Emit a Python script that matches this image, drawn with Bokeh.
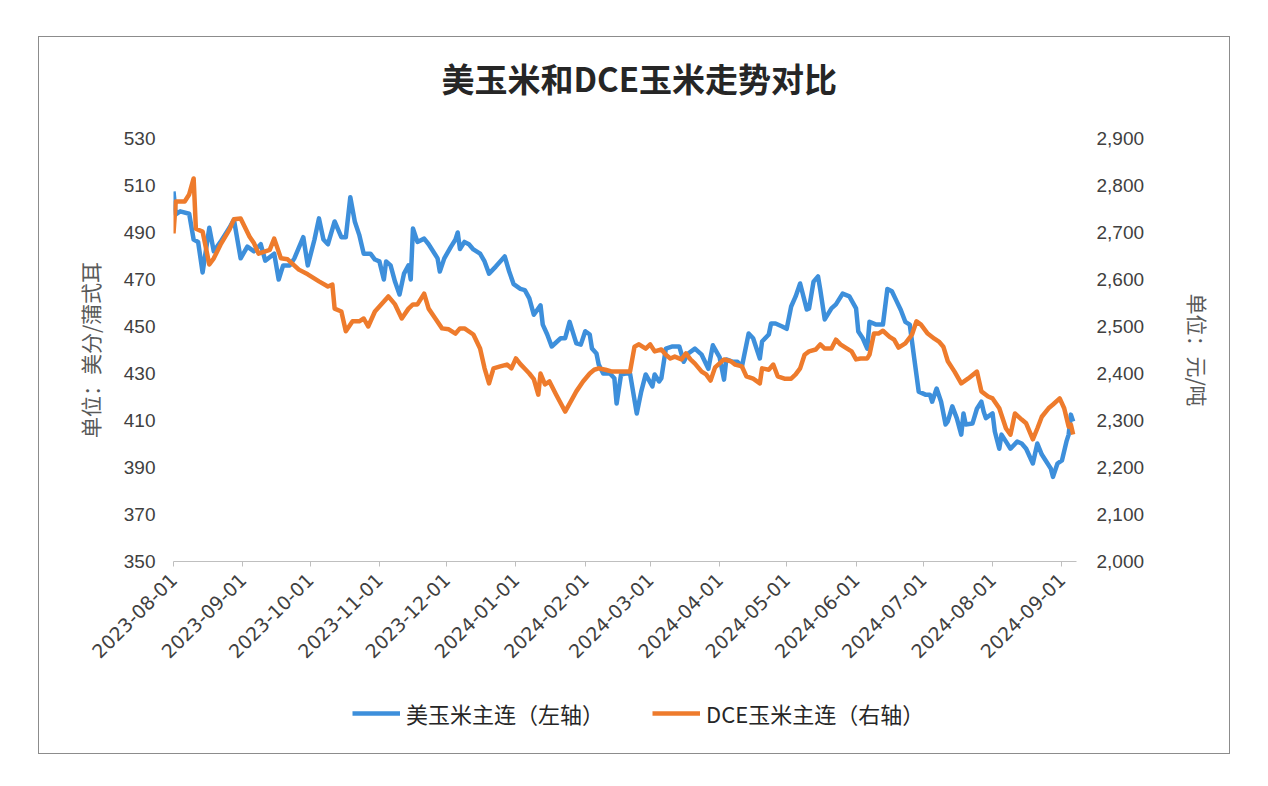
import math
import pandas as pd
from bokeh.plotting import figure
from bokeh.layouts import column
from bokeh.models import (Range1d, LinearAxis, FixedTicker, NumeralTickFormatter, Title,
                          DatetimeTickFormatter, Legend, LegendItem, ColumnDataSource)
from bokeh.embed import file_html
from bokeh.resources import INLINE

TITLE = "美玉米和DCE玉米走势对比"
LEFT_LABEL = "单位：美分/蒲式耳"
RIGHT_LABEL = "单位：元/吨"
US_NAME = "美玉米主连（左轴）"
DCE_NAME = "DCE玉米主连（右轴）"

left_ticks = [350, 370, 390, 410, 430, 450, 470, 490, 510, 530]
right_ticks = [2000, 2100, 2200, 2300, 2400, 2500, 2600, 2700, 2800, 2900]
month_ticks = ["2023-08-01", "2023-09-01", "2023-10-01", "2023-11-01", "2023-12-01",
               "2024-01-01", "2024-02-01", "2024-03-01", "2024-04-01", "2024-05-01",
               "2024-06-01", "2024-07-01", "2024-08-01", "2024-09-01"]

us_dates = [
    "2023-08-01", "2023-08-02", "2023-08-04", "2023-08-08", "2023-08-10", "2023-08-12",
    "2023-08-14", "2023-08-17", "2023-08-19", "2023-08-22", "2023-08-26", "2023-08-28",
    "2023-08-31", "2023-09-03", "2023-09-06", "2023-09-09", "2023-09-11", "2023-09-15",
    "2023-09-17", "2023-09-19", "2023-09-22", "2023-09-24", "2023-09-28", "2023-09-30",
    "2023-10-03", "2023-10-05", "2023-10-07", "2023-10-09", "2023-10-12", "2023-10-15",
    "2023-10-17", "2023-10-19", "2023-10-21", "2023-10-23", "2023-10-25", "2023-10-28",
    "2023-10-30", "2023-11-01", "2023-11-03", "2023-11-04", "2023-11-06", "2023-11-08",
    "2023-11-10", "2023-11-12", "2023-11-14", "2023-11-15", "2023-11-16", "2023-11-18",
    "2023-11-21", "2023-11-23", "2023-11-27", "2023-11-28", "2023-11-30", "2023-12-03",
    "2023-12-05", "2023-12-06", "2023-12-07", "2023-12-09", "2023-12-11", "2023-12-13",
    "2023-12-16", "2023-12-18", "2023-12-20", "2023-12-23", "2023-12-27", "2023-12-29",
    "2023-12-31", "2024-01-03", "2024-01-05", "2024-01-07", "2024-01-09", "2024-01-12",
    "2024-01-13", "2024-01-15", "2024-01-17", "2024-01-21", "2024-01-23", "2024-01-25",
    "2024-01-28", "2024-01-30", "2024-02-01", "2024-02-03", "2024-02-04", "2024-02-06",
    "2024-02-07", "2024-02-09", "2024-02-12", "2024-02-14", "2024-02-15", "2024-02-17",
    "2024-02-19", "2024-02-21", "2024-02-24", "2024-02-26", "2024-02-28", "2024-03-02",
    "2024-03-03", "2024-03-05", "2024-03-06", "2024-03-08", "2024-03-11", "2024-03-14",
    "2024-03-16", "2024-03-18", "2024-03-21", "2024-03-24", "2024-03-27", "2024-03-29",
    "2024-04-01", "2024-04-03", "2024-04-04", "2024-04-07", "2024-04-09", "2024-04-11",
    "2024-04-14", "2024-04-16", "2024-04-19", "2024-04-20", "2024-04-23", "2024-04-24",
    "2024-04-26", "2024-04-29", "2024-05-01", "2024-05-03", "2024-05-05", "2024-05-07",
    "2024-05-10", "2024-05-11", "2024-05-13", "2024-05-15", "2024-05-16", "2024-05-18",
    "2024-05-21", "2024-05-23", "2024-05-26", "2024-05-29", "2024-06-01", "2024-06-02",
    "2024-06-04", "2024-06-06", "2024-06-07", "2024-06-10", "2024-06-13", "2024-06-15",
    "2024-06-17", "2024-06-19", "2024-06-21", "2024-06-23", "2024-06-25", "2024-06-27",
    "2024-06-29", "2024-07-02", "2024-07-04", "2024-07-05", "2024-07-07", "2024-07-09",
    "2024-07-11", "2024-07-12", "2024-07-14", "2024-07-16", "2024-07-18", "2024-07-19",
    "2024-07-20", "2024-07-23", "2024-07-25", "2024-07-27", "2024-07-28", "2024-07-29",
    "2024-08-01", "2024-08-02", "2024-08-04", "2024-08-05", "2024-08-07", "2024-08-09",
    "2024-08-12", "2024-08-14", "2024-08-16", "2024-08-19", "2024-08-21", "2024-08-23",
    "2024-08-25", "2024-08-27", "2024-08-28", "2024-08-30", "2024-09-01", "2024-09-03",
    "2024-09-04", "2024-09-05", "2024-09-06",
]
us_values = [
    507.5, 497.7, 499.0, 498.0, 487.0, 486.0,
    473.0, 492.0, 482.0, 486.0, 492.0, 495.5,
    479.0, 484.0, 482.0, 485.0, 478.0, 481.0,
    470.0, 476.0, 476.0, 479.0, 488.0, 476.0,
    487.0, 496.0, 487.0, 485.0, 494.7, 488.0,
    488.0, 505.0, 494.7, 489.0, 481.0, 481.0,
    478.5, 477.7, 470.0, 477.7, 476.0, 469.0,
    463.6, 472.5, 476.0, 470.0, 491.7, 486.0,
    487.4, 485.0, 479.0, 473.4, 479.0, 484.0,
    487.0, 490.0, 483.0, 486.0, 485.0, 482.8,
    481.0, 477.7, 472.5, 475.5, 479.8, 473.4,
    468.0, 466.0, 465.5, 462.0, 455.0, 459.0,
    450.8, 446.6, 441.5, 445.0, 445.0, 452.0,
    442.8, 442.3, 448.0, 446.6, 440.6, 438.5,
    433.8, 430.0, 430.0, 428.0, 417.2, 429.6,
    430.0, 430.0, 413.0, 422.3, 429.6, 424.5,
    429.6, 426.6, 428.0, 440.6, 441.5, 441.5,
    435.0, 438.5, 440.6, 438.0, 432.0, 442.0,
    437.0, 427.4, 436.0, 435.0, 435.0, 433.0,
    447.0, 445.0, 436.4, 443.6, 446.6, 451.3,
    451.3, 450.0, 449.0, 458.5, 462.8, 468.3,
    457.2, 457.7, 469.1, 471.3, 465.7, 453.0,
    457.7, 459.4, 464.0, 462.8, 457.7, 447.9,
    445.0, 440.6, 452.0, 450.8, 450.8, 466.0,
    465.0, 461.0, 457.0, 452.0, 450.8, 436.4,
    422.3, 421.0, 421.0, 418.0, 423.6, 418.0,
    408.3, 409.6, 416.0, 411.0, 404.0, 413.0,
    408.3, 408.7, 415.0, 418.0, 413.8, 411.0,
    413.0, 405.3, 398.0, 404.0, 401.0, 398.0,
    401.0, 400.2, 398.0, 391.7, 400.2, 395.5,
    392.6, 389.6, 386.0, 391.7, 393.0, 401.0,
    404.0, 412.5, 409.6,
]

dce_dates = [
    "2023-08-01", "2023-08-02", "2023-08-06", "2023-08-08", "2023-08-10", "2023-08-11",
    "2023-08-14", "2023-08-17", "2023-08-19", "2023-08-22", "2023-08-26", "2023-08-28",
    "2023-08-31", "2023-09-04", "2023-09-06", "2023-09-08", "2023-09-13", "2023-09-15",
    "2023-09-18", "2023-09-21", "2023-09-26", "2023-09-30", "2023-10-05", "2023-10-09",
    "2023-10-11", "2023-10-12", "2023-10-15", "2023-10-17", "2023-10-20", "2023-10-23",
    "2023-10-25", "2023-10-27", "2023-10-30", "2023-11-03", "2023-11-05", "2023-11-08",
    "2023-11-11", "2023-11-14", "2023-11-16", "2023-11-18", "2023-11-21", "2023-11-23",
    "2023-11-26", "2023-11-29", "2023-12-02", "2023-12-05", "2023-12-07", "2023-12-09",
    "2023-12-13", "2023-12-16", "2023-12-18", "2023-12-20", "2023-12-22", "2023-12-25",
    "2023-12-28", "2023-12-30", "2024-01-01", "2024-01-03", "2024-01-05", "2024-01-07",
    "2024-01-09", "2024-01-11", "2024-01-12", "2024-01-14", "2024-01-16", "2024-01-19",
    "2024-01-23", "2024-01-25", "2024-01-28", "2024-01-31", "2024-02-03", "2024-02-05",
    "2024-02-07", "2024-02-10", "2024-02-13", "2024-02-17", "2024-02-21", "2024-02-23",
    "2024-02-25", "2024-02-28", "2024-03-01", "2024-03-03", "2024-03-06", "2024-03-08",
    "2024-03-10", "2024-03-12", "2024-03-15", "2024-03-17", "2024-03-19", "2024-03-21",
    "2024-03-24", "2024-03-26", "2024-03-28", "2024-03-30", "2024-04-03", "2024-04-06",
    "2024-04-08", "2024-04-11", "2024-04-13", "2024-04-16", "2024-04-19", "2024-04-20",
    "2024-04-23", "2024-04-25", "2024-04-27", "2024-04-30", "2024-05-03", "2024-05-05",
    "2024-05-07", "2024-05-09", "2024-05-11", "2024-05-14", "2024-05-16", "2024-05-18",
    "2024-05-21", "2024-05-23", "2024-05-25", "2024-05-28", "2024-05-30", "2024-06-01",
    "2024-06-03", "2024-06-06", "2024-06-07", "2024-06-09", "2024-06-11", "2024-06-13",
    "2024-06-16", "2024-06-18", "2024-06-20", "2024-06-23", "2024-06-26", "2024-06-28",
    "2024-06-30", "2024-07-03", "2024-07-06", "2024-07-08", "2024-07-10", "2024-07-12",
    "2024-07-15", "2024-07-18", "2024-07-21", "2024-07-25", "2024-07-27", "2024-07-30",
    "2024-08-01", "2024-08-04", "2024-08-07", "2024-08-09", "2024-08-11", "2024-08-14",
    "2024-08-16", "2024-08-19", "2024-08-21", "2024-08-23", "2024-08-26", "2024-08-28",
    "2024-08-31", "2024-09-02", "2024-09-04", "2024-09-05", "2024-09-06",
]
dce_values = [
    2698, 2766, 2766, 2781, 2815, 2708,
    2702, 2632, 2645, 2674, 2706, 2728,
    2730, 2691, 2677, 2655, 2663, 2687,
    2645, 2643, 2621, 2611, 2596, 2585,
    2589, 2538, 2532, 2490, 2511, 2511,
    2517, 2500, 2532, 2553, 2564, 2547,
    2517, 2538, 2547, 2547, 2570, 2538,
    2517, 2496, 2494, 2485, 2496, 2496,
    2483, 2453, 2411, 2379, 2411, 2415,
    2419, 2411, 2432, 2420, 2410, 2400,
    2388, 2355, 2400, 2377, 2383, 2355,
    2319, 2336, 2362, 2383, 2400, 2408,
    2411, 2408, 2404, 2404, 2404, 2457,
    2462, 2453, 2462, 2447, 2451, 2440,
    2432, 2436, 2430, 2443, 2430, 2421,
    2404, 2398, 2385, 2413, 2430, 2426,
    2419, 2415, 2394, 2389, 2379, 2411,
    2408, 2419, 2394, 2389, 2389, 2398,
    2411, 2440, 2447, 2451, 2462, 2453,
    2453, 2472, 2462, 2453, 2447, 2430,
    2432, 2432, 2440, 2485, 2485, 2491,
    2478, 2472, 2455, 2464, 2483, 2511,
    2504, 2485, 2474, 2468, 2457, 2426,
    2404, 2379, 2389, 2404, 2362, 2351,
    2347, 2326, 2283, 2270, 2315, 2302,
    2294, 2260, 2283, 2308, 2326, 2334,
    2347, 2326, 2287, 2291, 2270,
]

BLUE = "#3d8fdb"
ORANGE = "#ee7b2c"
TEXT = "#404040"

us_src = ColumnDataSource(dict(x=pd.to_datetime(us_dates), y=us_values))
dce_src = ColumnDataSource(dict(x=pd.to_datetime(dce_dates), y=dce_values))

p = figure(width=1190, height=634, x_axis_type="datetime",
           x_range=Range1d(pd.Timestamp("2023-08-01"), pd.Timestamp("2024-09-07 12:00")),
           y_range=Range1d(left_ticks[0], left_ticks[-1]),
           output_backend="svg", toolbar_location=None,
           min_border_left=134, min_border_right=153, min_border_top=101, min_border_bottom=110)
p.extra_y_ranges = {"right": Range1d(right_ticks[0], right_ticks[-1])}
p.outline_line_color = None
p.xgrid.visible = False
p.ygrid.visible = False
p.background_fill_color = "white"
p.border_fill_color = "white"

# blank spacer between the frame and the title
p.add_layout(Title(text=" ", text_font_size="20px", standoff=13), "above")

p.title.text = TITLE
p.title.align = "left"
p.title.offset = 268
p.title.text_font = "Noto Sans CJK SC"
p.title.text_font_size = "33px"
p.title.text_font_style = "bold"
p.title.text_color = "#262626"
p.title.standoff = 0

r_us = p.line("x", "y", source=us_src, line_color=BLUE, line_width=4.5, line_join="round")
r_dce = p.line("x", "y", source=dce_src, line_color=ORANGE, line_width=4.5, line_join="round",
               y_range_name="right")

# x axis
xa = p.xaxis[0]
xa.ticker = FixedTicker(ticks=[pd.Timestamp(d).timestamp() * 1000 for d in month_ticks])
fmt = "%Y-%m-%d"
xa.formatter = DatetimeTickFormatter(milliseconds=fmt, seconds=fmt, minsec=fmt, minutes=fmt,
                                     hourmin=fmt, hours=fmt, days=fmt, months=fmt, years=fmt)
xa.major_label_orientation = math.pi / 4
xa.major_label_text_font = "DejaVu Sans"
xa.major_label_text_font_size = "19px"
xa.major_label_text_color = TEXT
xa.axis_line_color = "#bfbfbf"
xa.major_tick_line_color = "#bfbfbf"
xa.major_tick_in = 0
xa.major_tick_out = 5
xa.minor_tick_line_color = None
xa.major_label_standoff = 10

# left axis
ya = p.yaxis[0]
ya.ticker = FixedTicker(ticks=left_ticks)
ya.axis_line_color = None
ya.major_tick_line_color = None
ya.minor_tick_line_color = None
ya.major_label_text_font = "Liberation Sans"
ya.major_label_text_font_size = "19px"
ya.major_label_text_color = TEXT
ya.major_label_standoff = 12
ya.axis_label = LEFT_LABEL
ya.axis_label_text_font = "Noto Sans CJK SC"
ya.axis_label_text_font_size = "21px"
ya.axis_label_text_font_style = "normal"
ya.axis_label_text_color = "#595959"
ya.axis_label_standoff = 16

# right axis
ra = LinearAxis(y_range_name="right", ticker=FixedTicker(ticks=right_ticks),
                formatter=NumeralTickFormatter(format="0,0"))
ra.axis_line_color = None
ra.major_tick_line_color = None
ra.minor_tick_line_color = None
ra.major_label_text_font = "Liberation Sans"
ra.major_label_text_font_size = "19px"
ra.major_label_text_color = TEXT
ra.major_label_standoff = 14
ra.axis_label = RIGHT_LABEL
ra.axis_label_text_font = "Noto Sans CJK SC"
ra.axis_label_text_font_size = "21px"
ra.axis_label_text_font_style = "normal"
ra.axis_label_text_color = "#595959"
ra.axis_label_standoff = 36
try:
    ra.axis_label_orientation = "vertical"
except Exception:
    pass
p.add_layout(ra, "right")

# legend strip: same series drawn again, out of view, only to feed the legend
lf = figure(width=1190, height=82, x_range=Range1d(0, 1), y_range=Range1d(0, 1),
            output_backend="svg", toolbar_location=None,
            min_border_left=0, min_border_right=0, min_border_top=0, min_border_bottom=0)
lf.axis.visible = False
lf.grid.visible = False
lf.outline_line_color = None
lf.background_fill_color = "white"
lf.border_fill_color = "white"
l_us = lf.line("x", "y", source=us_src, line_color=BLUE, line_width=4.5)
l_dce = lf.line("x", "y", source=dce_src, line_color=ORANGE, line_width=4.5)

legend = Legend(items=[LegendItem(label=US_NAME, renderers=[l_us]),
                       LegendItem(label=DCE_NAME, renderers=[l_dce])],
                orientation="horizontal", location=(179, 24),
                label_text_font="Noto Sans CJK SC", label_text_font_size="22px",
                label_text_color="#262626", glyph_width=48, glyph_height=20,
                label_standoff=6, spacing=48, padding=4, margin=0,
                border_line_color=None, background_fill_alpha=0)
lf.add_layout(legend, "center")

layout = column(p, lf, spacing=0,
                styles={"margin-left": "38px", "margin-top": "36px",
                        "border": "1px solid #8c8c8c", "background": "white"})

open("out.html", "w").write(file_html(layout, INLINE))
